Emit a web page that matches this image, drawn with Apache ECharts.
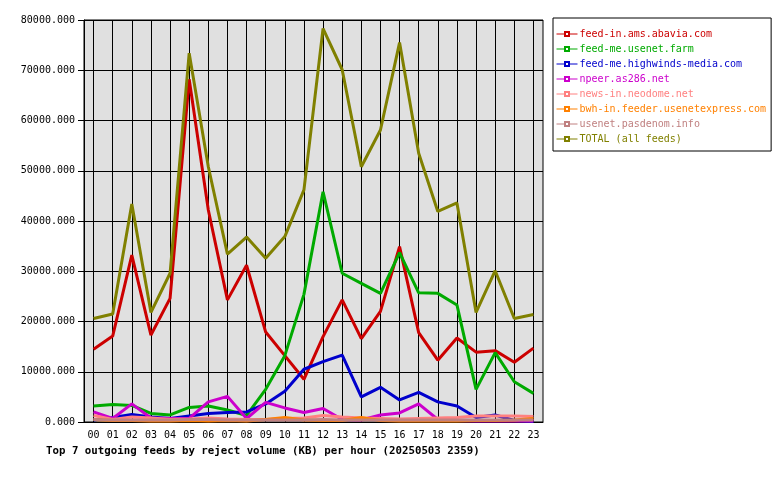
<!DOCTYPE html>
<html>
<head>
<meta charset="utf-8">
<script src="https://cdn.jsdelivr.net/npm/echarts@6/dist/echarts.min.js"></script>
<style>
  html, body { margin: 0; padding: 0; background: #fff; }
  #chart { width: 780px; height: 480px; }
</style>
</head>
<body>
<div id="chart"></div>
<script>
// hours of the day
const hours = ['00','01','02','03','04','05','06','07','08','09','10','11',
               '12','13','14','15','16','17','18','19','20','21','22','23'];

// reject volume (KB) per feed
const abavia     = [14500, 17100, 33200, 17300, 24600, 68200, 42200, 24300, 31200, 17900, 13200, 8500,
                    17000, 24300, 16600, 22000, 34900, 17800, 12300, 16700, 13900, 14200, 11900, 14700];
const usenetFarm = [3200, 3500, 3300, 1700, 1400, 2900, 3200, 2400, 1300, 6500, 13200, 25400,
                    45800, 29600, 27600, 25600, 33700, 25700, 25600, 23300, 6500, 13800, 8000, 5700];
const highwinds  = [400, 900, 1500, 1000, 700, 1200, 1700, 1900, 2000, 3600, 6100, 10500,
                    12000, 13300, 5000, 6900, 4400, 5900, 4000, 3200, 900, 1400, 300, 100];
const as286      = [2000, 700, 3600, 800, 700, 700, 4000, 5100, 700, 3900, 2800, 1900,
                    2700, 500, 400, 1400, 1800, 3600, 500, 300, 200, 200, 200, 200];
const neodome    = [1300, 500, 1000, 800, 500, 600, 800, 600, 500, 500, 700, 800,
                    1300, 1000, 800, 700, 600, 700, 800, 900, 1200, 1200, 1200, 1100];
const usenetexp  = [500, 300, 300, 200, 200, 300, 200, 300, 200, 500, 900, 400,
                    300, 300, 900, 300, 200, 200, 200, 200, 300, 300, 400, 700];
const pasdenom   = [500, 400, 400, 400, 400, 500, 500, 400, 400, 400, 400, 400,
                    500, 400, 400, 400, 400, 400, 400, 400, 400, 400, 400, 400];
const total      = [20600, 21500, 43400, 21800, 29600, 73400, 50800, 33400, 36800, 32600, 36900, 46200,
                    78300, 70100, 50800, 58100, 75500, 53500, 41900, 43600, 21800, 30100, 20600, 21400];

const feeds = [
  { name: 'feed-in.ams.abavia.com',          color: '#cc0000', data: abavia },
  { name: 'feed-me.usenet.farm',             color: '#00aa00', data: usenetFarm },
  { name: 'feed-me.highwinds-media.com',     color: '#0000cc', data: highwinds },
  { name: 'npeer.as286.net',                 color: '#cc00cc', data: as286 },
  { name: 'news-in.neodome.net',             color: '#ff8080', data: neodome },
  { name: 'bwh-in.feeder.usenetexpress.com', color: '#ff8000', data: usenetexp },
  { name: 'usenet.pasdenom.info',            color: '#c08080', data: pasdenom },
  { name: 'TOTAL (all feeds)',               color: '#808000', data: total }
];

const mono = '"DejaVu Sans Mono", monospace';

const chart = echarts.init(document.getElementById('chart'), null, { renderer: 'canvas' });

chart.setOption({
  animation: false,
  backgroundColor: '#ffffff',
  title: {
    text: 'Top 7 outgoing feeds by reject volume (KB) per hour (20250503 2359)',
    left: 46,
    top: 446,
    padding: 0,
    textStyle: { fontFamily: mono, fontSize: 10.75, fontWeight: 'bold', color: '#000' }
  },
  legend: {
    orient: 'vertical',
    left: 553,
    top: 18,
    padding: [10, 5, 6, 3],
    itemGap: 3,
    itemWidth: 21,
    itemHeight: 5,
    backgroundColor: '#ffffff',
    borderColor: '#000000',
    borderWidth: 1,
    borderRadius: 0,
    lineStyle: { width: 1 },
    textStyle: {
      fontFamily: mono, fontSize: 10, lineHeight: 12,
      padding: [0, 0, 0, -3]
    },
    data: feeds.map(f => ({ name: f.name, textStyle: { color: f.color } }))
  },
  grid: {
    left: 84, right: 237, top: 20, bottom: 58,
    show: true,
    backgroundColor: '#e0e0e0',
    borderColor: '#000000',
    borderWidth: 1
  },
  xAxis: {
    type: 'category',
    data: hours,
    boundaryGap: true,
    axisLine: { lineStyle: { color: '#000', width: 1 } },
    axisTick: { alignWithLabel: true, length: 4, lineStyle: { color: '#000' } },
    axisLabel: { fontFamily: mono, fontSize: 10, color: '#000', margin: 8, interval: 0 },
    splitLine: { show: true, alignWithLabel: true, interval: 0, lineStyle: { color: '#000', width: 1 } }
  },
  yAxis: {
    type: 'value',
    min: 0,
    max: 80000,
    interval: 10000,
    axisLine: { show: true, lineStyle: { color: '#000', width: 1 } },
    axisTick: { show: true, length: 6, lineStyle: { color: '#000' } },
    axisLabel: {
      fontFamily: mono, fontSize: 10, color: '#000', margin: 9,
      formatter: v => v.toFixed(3)
    },
    splitLine: { show: true, lineStyle: { color: '#000', width: 1 } }
  },
  series: feeds.map(f => ({
    name: f.name,
    type: 'line',
    data: f.data,
    color: f.color,
    symbol: 'emptyRect',
    symbolSize: 4,
    showSymbol: false,
    lineStyle: { width: 3, color: f.color },
    itemStyle: { color: f.color },
    emphasis: { disabled: true }
  }))
});
</script>
</body>
</html>
